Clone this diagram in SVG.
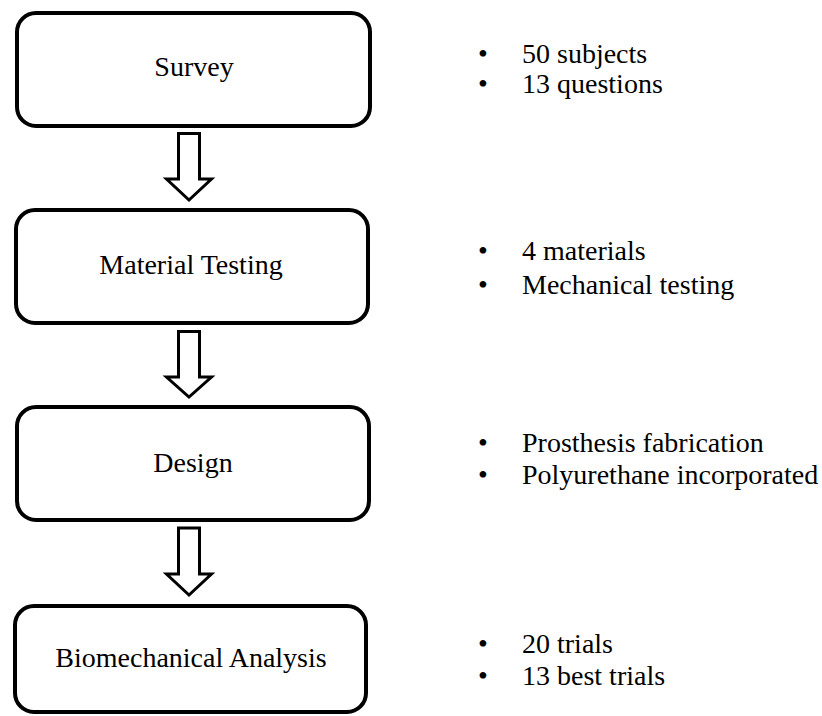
<svg xmlns="http://www.w3.org/2000/svg" width="822" height="716" viewBox="0 0 822 716">
<style>
.box{fill:#fff;stroke:#000;stroke-width:4}
.arrow{fill:#fff;stroke:#000;stroke-width:3;stroke-linejoin:miter}
</style>
<rect width="822" height="716" fill="#fff"/>
<g id="connectors">
<path class="arrow" d="M178.5,133.5 H199.5 V179 H211.5 L189,200 L166.5,179 H178.5 Z"/>
<path class="arrow" d="M178.5,331.5 H199.5 V377 H211.5 L189,397 L166.5,377 H178.5 Z"/>
<path class="arrow" d="M178.5,528 H199.5 V574 H211.5 L189,595 L166.5,574 H178.5 Z"/>
</g>
<g id="survey">
<rect class="box" x="17" y="13" width="353" height="113" rx="19"/>
<text x="194" y="76" text-anchor="middle" style="font-family:'Liberation Serif','Times New Roman',serif;font-size:28px">Survey</text>
</g>
<g id="material-testing">
<rect class="box" x="16" y="210" width="352" height="113" rx="19"/>
<text x="191" y="274" text-anchor="middle" style="font-family:'Liberation Serif','Times New Roman',serif;font-size:28px">Material Testing</text>
</g>
<g id="design">
<rect class="box" x="17" y="407" width="352" height="113" rx="19"/>
<text x="193" y="472" text-anchor="middle" style="font-family:'Liberation Serif','Times New Roman',serif;font-size:28px">Design</text>
</g>
<g id="biomechanical-analysis">
<rect class="box" x="15" y="606" width="351" height="106" rx="19"/>
<text x="191" y="667" text-anchor="middle" style="font-family:'Liberation Serif','Times New Roman',serif;font-size:28px">Biomechanical Analysis</text>
</g>
<g id="notes-survey">
<text x="478" y="63" style="font-family:'Liberation Serif','Times New Roman',serif;font-size:28px">&#8226;</text>
<text x="522" y="63" style="font-family:'Liberation Serif','Times New Roman',serif;font-size:28px">50 subjects</text>
<text x="478" y="93" style="font-family:'Liberation Serif','Times New Roman',serif;font-size:28px">&#8226;</text>
<text x="522" y="93" style="font-family:'Liberation Serif','Times New Roman',serif;font-size:28px">13 questions</text>
</g>
<g id="notes-material">
<text x="478" y="260" style="font-family:'Liberation Serif','Times New Roman',serif;font-size:28px">&#8226;</text>
<text x="522" y="260" style="font-family:'Liberation Serif','Times New Roman',serif;font-size:28px">4 materials</text>
<text x="478" y="294" style="font-family:'Liberation Serif','Times New Roman',serif;font-size:28px">&#8226;</text>
<text x="522" y="294" style="font-family:'Liberation Serif','Times New Roman',serif;font-size:28px">Mechanical testing</text>
</g>
<g id="notes-design">
<text x="478" y="452" style="font-family:'Liberation Serif','Times New Roman',serif;font-size:28px">&#8226;</text>
<text x="522" y="452" style="font-family:'Liberation Serif','Times New Roman',serif;font-size:28px">Prosthesis fabrication</text>
<text x="478" y="484" style="font-family:'Liberation Serif','Times New Roman',serif;font-size:28px">&#8226;</text>
<text x="522" y="484" style="font-family:'Liberation Serif','Times New Roman',serif;font-size:28px">Polyurethane incorporated</text>
</g>
<g id="notes-biomech">
<text x="478" y="653" style="font-family:'Liberation Serif','Times New Roman',serif;font-size:28px">&#8226;</text>
<text x="522" y="653" style="font-family:'Liberation Serif','Times New Roman',serif;font-size:28px">20 trials</text>
<text x="478" y="685" style="font-family:'Liberation Serif','Times New Roman',serif;font-size:28px">&#8226;</text>
<text x="522" y="685" style="font-family:'Liberation Serif','Times New Roman',serif;font-size:28px">13 best trials</text>
</g>
</svg>
